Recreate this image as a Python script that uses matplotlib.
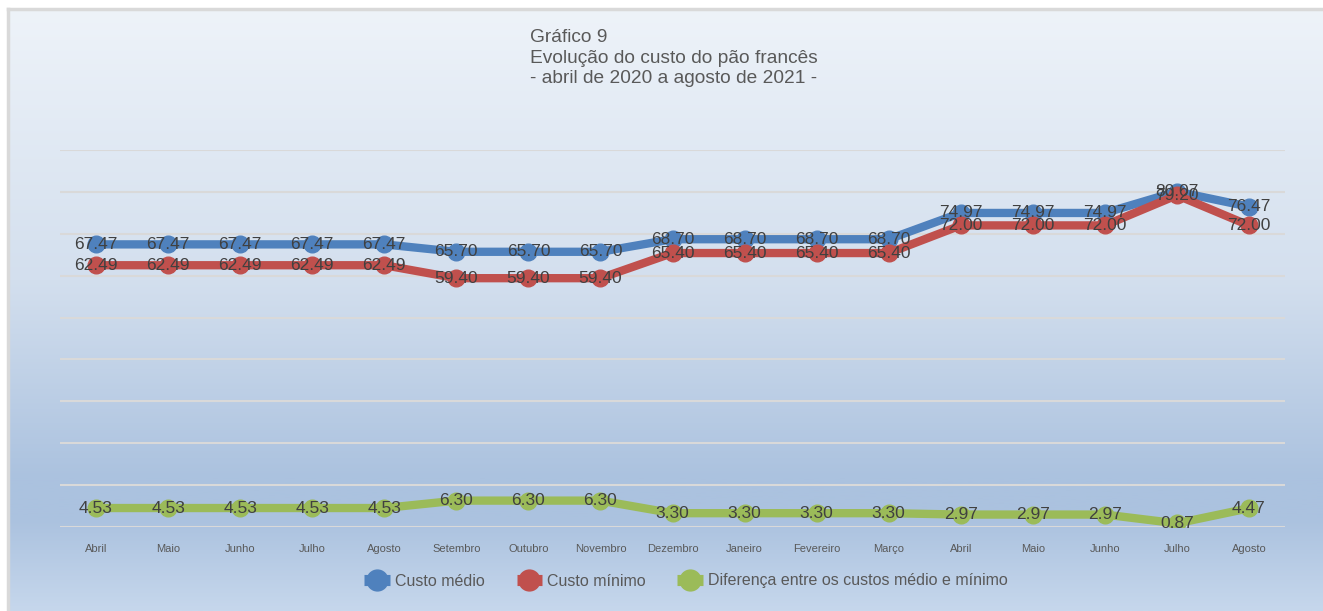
import matplotlib
matplotlib.use("Agg")
import matplotlib.pyplot as plt
import numpy as np
from matplotlib.colors import LinearSegmentedColormap
from matplotlib.lines import Line2D

plt.rcParams['font.family'] = ['Liberation Sans', 'DejaVu Sans']

meses = ["Abril", "Maio", "Junho", "Julho", "Agosto", "Setembro", "Outubro",
         "Novembro", "Dezembro", "Janeiro", "Fevereiro", "Março", "Abril",
         "Maio", "Junho", "Julho", "Agosto"]
custo_medio = [67.47, 67.47, 67.47, 67.47, 67.47, 65.70, 65.70, 65.70, 68.70,
               68.70, 68.70, 68.70, 74.97, 74.97, 74.97, 80.07, 76.47]
custo_minimo = [62.49, 62.49, 62.49, 62.49, 62.49, 59.40, 59.40, 59.40, 65.40,
                65.40, 65.40, 65.40, 72.00, 72.00, 72.00, 79.20, 72.00]
diferenca = [4.53, 4.53, 4.53, 4.53, 4.53, 6.30, 6.30, 6.30, 3.30, 3.30, 3.30,
             3.30, 2.97, 2.97, 2.97, 0.87, 4.47]
series_nomes = ["Custo médio", "Custo mínimo",
                "Diferença entre os custos médio e mínimo"]
titulo = "Gráfico 9\nEvolução do custo do pão francês\n- abril de 2020 a agosto de 2021 -"

cores = ["#4f81bd", "#c0504d", "#9bbb59"]

W, H = 1323, 611
fig = plt.figure(figsize=(W / 100, H / 100), dpi=100)
fig.patch.set_facecolor("white")

# background gradient panel
bg = fig.add_axes([8 / W, 0, 1 - 8 / W, (H - 9) / H], zorder=0)
cmap = LinearSegmentedColormap.from_list(
    "bg", [(0.0, "#eef3f9"), (0.45, "#d3dfee"), (0.78, "#abc2df"),
           (0.85, "#abc2df"), (1.0, "#c6d7ec")])
grad = np.linspace(0, 1, 256).reshape(-1, 1)
bg.imshow(grad, aspect="auto", cmap=cmap, extent=[0, 1, 0, 1], origin="upper")
bg.set_xlim(0, 1)
bg.set_ylim(0, 1)
bg.axis("off")
bg.plot([0, 0], [0, 1], color="#d9d9d9", lw=2.5, clip_on=False, transform=bg.transAxes)
bg.plot([0, 1], [1, 1], color="#d9d9d9", lw=2.5, clip_on=False, transform=bg.transAxes)

ax = fig.add_axes([60 / W, (H - 527) / H, (1285 - 60) / W, (527 - 150) / H], zorder=1)
ax.patch.set_alpha(0)
x = np.arange(len(meses))
ax.set_xlim(-0.5, len(meses) - 0.5)
ax.set_ylim(0, 90)
ax.set_yticks(np.arange(0, 91, 10))
ax.yaxis.grid(True, color="#d9d9d9", lw=1.5)
ax.set_axisbelow(True)
ax.tick_params(axis="y", left=False, labelleft=False)
ax.tick_params(axis="x", length=0, pad=12, labelsize=8, labelcolor="#595959")
ax.set_xticks(x)
ax.set_xticklabels(meses)
for s in ax.spines.values():
    s.set_visible(False)

for vals, cor, nome in zip([custo_medio, custo_minimo, diferenca], cores, series_nomes):
    ax.plot(x, vals, color=cor, lw=6, marker="o", markersize=12, label=nome,
            solid_capstyle="round", zorder=3)
for vals in [custo_medio, custo_minimo, diferenca]:
    for xi, v in zip(x, vals):
        ax.text(xi, v, f"{v:.2f}", ha="center", va="center", fontsize=12.5,
                color="#404040", zorder=5)

fig.text(530 / W, 1 - 29 / H, titulo, ha="left", va="top", fontsize=13.8,
         color="#595959", linespacing=1.28)

handles = [Line2D([], [], color=c, lw=8, marker="o", markersize=15,
                  solid_capstyle="butt") for c in cores]
leg = fig.legend(handles, series_nomes, loc="center",
                 bbox_to_anchor=(686 / W, 1 - 581 / H), ncol=3,
                 frameon=False, fontsize=11.5, handlelength=1.6, columnspacing=2.0,
                 handletextpad=0.3, labelcolor="#595959")

fig.savefig("out.png", dpi=100)
